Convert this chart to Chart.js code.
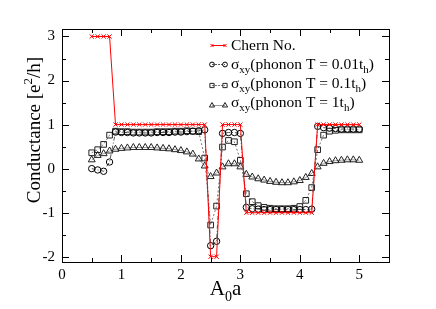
<!DOCTYPE html>
<html>
<head>
<meta charset="utf-8">
<script src="https://cdn.jsdelivr.net/npm/chart.js@4/dist/chart.umd.min.js"></script>
<style>
html,body{margin:0;padding:0;background:#fff;}
#wrap{position:relative;width:436px;height:309px;}
</style>
</head>
<body>
<div id="wrap"><canvas id="c" width="436" height="309"></canvas></div>
<script>
const xValues = [0.5,0.6,0.7,0.8,0.9,1.0,1.1,1.2,1.3,1.4,1.5,1.6,1.7,1.8,1.9,2.0,2.1,2.2,2.3,2.4,
  2.5,2.6,2.7,2.8,2.9,3.0,3.1,3.2,3.3,3.4,3.5,3.6,3.7,3.8,3.9,4.0,4.1,4.2,4.3,4.4,4.5,4.6,4.7,4.8,4.9,5.0];
const chernNo = [3,3,3,3,1,1,1,1,1,1,1,1,1,1,1,1,1,1,1,1,
  -2,-2,1,1,1,1,-1,-1,-1,-1,-1,-1,-1,-1,-1,-1,-1,-1,1,1,1,1,1,1,1,1];
const sigmaT001 = [0.0,-0.03,-0.06,0.15,0.83,0.82,0.82,0.81,0.81,0.81,0.81,0.82,0.82,0.82,0.83,0.83,0.84,0.85,0.86,0.88,
  -1.75,-1.65,0.80,0.82,0.82,0.80,-0.88,-0.91,-0.92,-0.93,-0.93,-0.93,-0.93,-0.93,-0.93,-0.93,-0.93,-0.92,
  0.96,0.93,0.92,0.91,0.90,0.90,0.90,0.90];
const sigmaT01 = [0.36,0.43,0.55,0.76,0.85,0.84,0.84,0.83,0.83,0.83,0.83,0.84,0.84,0.84,0.85,0.85,0.86,0.85,0.84,0.24,
  -1.28,-0.85,0.49,0.64,0.61,0.19,-0.57,-0.75,-0.84,-0.88,-0.90,-0.91,-0.91,-0.91,-0.90,-0.86,-0.72,-0.43,
  0.43,0.76,0.85,0.87,0.88,0.88,0.88,0.88];
const sigmaT1 = [0.20,0.30,0.34,0.40,0.44,0.46,0.47,0.48,0.48,0.48,0.48,0.47,0.46,0.45,0.43,0.41,0.38,0.33,0.22,0.06,
  -0.18,-0.10,0.04,0.11,0.11,0.04,-0.13,-0.19,-0.23,-0.26,-0.29,-0.31,-0.32,-0.32,-0.30,-0.27,-0.20,-0.11,
  0.04,0.12,0.16,0.18,0.19,0.20,0.20,0.19];
const xTickLabels = [0,1,2,3,4,5];
const yTickLabels = [-2,-1,0,1,2,3];
const seriesNames = ["Chern No.", "0.01", "0.1", "1"];

const SERIF = '"Liberation Serif","DejaVu Serif",serif';

function pts(ys){ return xValues.map((x,i)=>({x:x,y:ys[i]})); }

const styles = [
  {pointStyle:'crossRot', radius:3, border:'#ff0000', line:'#ff0000', dash:[], lw:1},
  {pointStyle:'circle', radius:3.2, border:'#000', line:'#555', dash:[4,2,1,2], lw:1},
  {pointStyle:'rect', radius:4, border:'#222', line:'#777', dash:[2,2], lw:1},
  {pointStyle:'triangle', radius:4, border:'#222', line:'#999', dash:[], lw:1}
];
const allData = [chernNo, sigmaT001, sigmaT01, sigmaT1];

const datasets = allData.map((d,i)=>({
  label: seriesNames[i],
  data: pts(d),
  showLine: true,
  borderColor: styles[i].line,
  borderWidth: styles[i].lw,
  borderDash: styles[i].dash,
  pointStyle: styles[i].pointStyle,
  pointRadius: styles[i].radius,
  pointBorderColor: styles[i].border,
  pointBackgroundColor: 'rgba(0,0,0,0)',
  pointBorderWidth: 1,
  tension: 0,
  fill: false
}));

function drawRuns(ctx, runs, x, y){
  // runs: [text, size, dy]
  let cx = x;
  for (const r of runs){
    ctx.font = r[1] + 'px ' + SERIF;
    ctx.fillText(r[0], cx, y + r[2]);
    cx += ctx.measureText(r[0]).width;
  }
  return cx - x;
}
function measureRuns(ctx, runs){
  let w = 0;
  for (const r of runs){ ctx.font = r[1] + 'px ' + SERIF; w += ctx.measureText(r[0]).width; }
  return w;
}

const decor = {
  id:'decor',
  afterDraw(chart){
    const ctx = chart.ctx, a = chart.chartArea, xs = chart.scales.x, ys = chart.scales.y;
    ctx.save();
    ctx.strokeStyle = '#000'; ctx.lineWidth = 1; ctx.setLineDash([]);
    ctx.strokeRect(Math.round(a.left)+0.5, Math.round(a.top)+0.5, Math.round(a.right-a.left), Math.round(a.bottom-a.top));
    // ticks (inward, both sides)
    ctx.beginPath();
    for (let k=0; k<=11; k++){
      const v = k*0.5; const major = (k%2===0);
      const L = major ? 7 : 4;
      const px = Math.round(xs.getPixelForValue(v))+0.5;
      if (px < a.left || px > a.right+1) continue;
      ctx.moveTo(px, a.bottom); ctx.lineTo(px, a.bottom-L);
      ctx.moveTo(px, a.top); ctx.lineTo(px, a.top+L);
    }
    for (let k=-4; k<=6; k++){
      const v = k*0.5; const major = (k%2===0);
      const L = major ? 7 : 4;
      const py = Math.round(ys.getPixelForValue(v))+0.5;
      ctx.moveTo(a.left, py); ctx.lineTo(a.left+L, py);
      ctx.moveTo(a.right, py); ctx.lineTo(a.right-L, py);
    }
    ctx.stroke();

    ctx.fillStyle = '#000';
    ctx.textBaseline = 'alphabetic';
    ctx.textAlign = 'left';
    // x title A0a
    const xr = [['A',21,0],['0',14,6],['a',21,0]];
    const xw = measureRuns(ctx, xr);
    drawRuns(ctx, xr, (a.left+a.right)/2 - xw/2, 295);
    // y title
    const yr = [['Conductance [e',19,0],['2',13,-8],['/h]',19,0]];
    const yw = measureRuns(ctx, yr);
    ctx.save();
    ctx.translate(40, 130);
    ctx.rotate(-Math.PI/2);
    drawRuns(ctx, yr, -yw/2, 0);
    ctx.restore();

    // legend
    const lx1 = 212, lx2 = 225, tx = 231;
    const rows = [
      {sym:0, y:45, base:50, runs:[['Chern No.',15.5,0]]},
      {sym:1, y:64, base:69, runs:[['\u03c3',15.5,0],['xy',11,4],['(phonon T = 0.01t',15.5,0],['h',11,4],[')',15.5,0]]},
      {sym:2, y:85, base:88, runs:[['\u03c3',15.5,0],['xy',11,4],['(phonon T = 0.1t',15.5,0],['h',11,4],[')',15.5,0]]},
      {sym:3, y:105, base:107, runs:[['\u03c3',15.5,0],['xy',11,4],['(phonon T = 1t',15.5,0],['h',11,4],[')',15.5,0]]}
    ];
    for (const r of rows){
      const s = styles[r.sym];
      ctx.save();
      ctx.strokeStyle = s.line; ctx.lineWidth = 1; ctx.setLineDash(s.dash.length? [2,1]:[]);
      ctx.beginPath(); ctx.moveTo(lx1, r.y+0.5); ctx.lineTo(lx2, r.y+0.5); ctx.stroke();
      ctx.setLineDash([]);
      const po = {pointStyle:s.pointStyle, radius: s.radius*0.75, borderWidth:1, rotation:0};
      ctx.strokeStyle = s.border; ctx.fillStyle = 'rgba(0,0,0,0)';
      Chart.helpers.drawPoint(ctx, po, lx1, r.y+0.5);
      Chart.helpers.drawPoint(ctx, po, lx2, r.y+0.5);
      ctx.restore();
      ctx.fillStyle = '#000';
      drawRuns(ctx, r.runs, tx, r.base);
    }
    ctx.restore();
  }
};

new Chart(document.getElementById('c'), {
  type: 'scatter',
  data: { datasets: datasets },
  plugins: [decor],
  options: {
    responsive: false,
    animation: false,
    devicePixelRatio: 1,
    layout: { padding: { left: 0, right: 47, top: 29, bottom: 0 } },
    plugins: { legend: { display: false }, tooltip: { enabled: false } },
    scales: {
      x: {
        type: 'linear', min: 0, max: 5.5,
        afterFit(s){ s.height = 47; },
        afterBuildTicks(s){ s.ticks = xTickLabels.map(v=>({value:v})); },
        grid: { display: false, drawTicks: false },
        border: { display: false },
        ticks: { color:'#000', font:{family:SERIF, size:15}, padding: 4, maxRotation:0, autoSkip:false }
      },
      y: {
        type: 'linear', min: -2.12, max: 3.17,
        afterFit(s){ s.width = 62; },
        afterBuildTicks(s){ s.ticks = yTickLabels.map(v=>({value:v})); },
        grid: { display: false, drawTicks: false },
        border: { display: false },
        ticks: { color:'#000', font:{family:SERIF, size:15}, padding: 7, autoSkip:false }
      }
    }
  }
});
</script>
</body>
</html>
